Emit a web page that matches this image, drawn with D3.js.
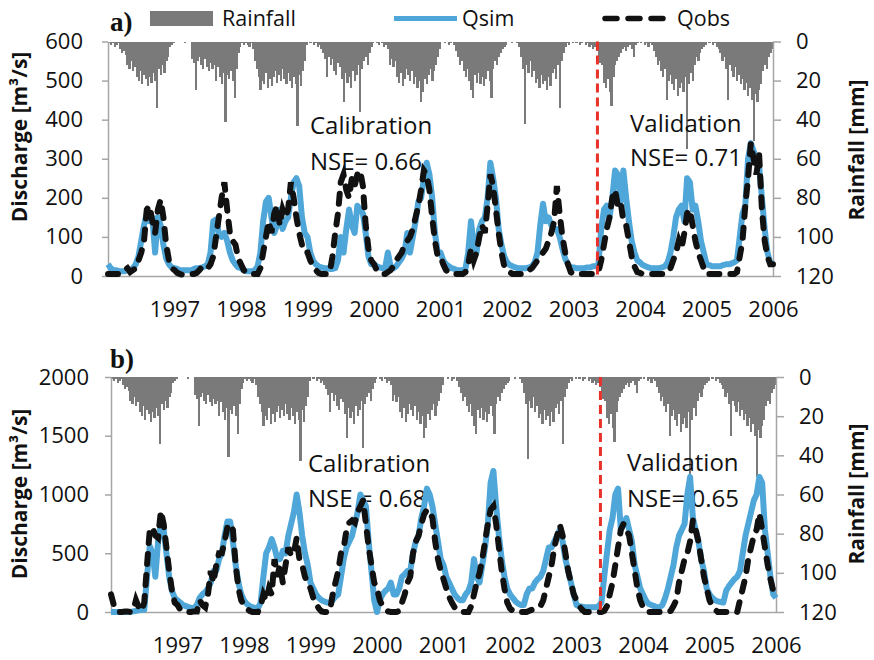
<!DOCTYPE html>
<html>
<head>
<meta charset="utf-8">
<script src="https://d3js.org/d3.v7.min.js"></script>
<style>
  body { margin: 0; background: #fff; }
  svg { display: block; }
</style>
</head>
<body>
<svg id="chart" width="874" height="660"></svg>
<script>
const START_YEAR = 1996;
const END_YEAR = 2006;
const yearTicks = [1997, 1998, 1999, 2000, 2001, 2002, 2003, 2004, 2005, 2006];
const splitYear = 2003.36; // calibration / validation split
const periodLabels = ["Calibration", "Validation"];
const nseA = ["NSE= 0.66", "NSE= 0.71"];
const nseB = ["NSE = 0.68", "NSE= 0.65"];
const legendNames = ["Rainfall", "Qsim", "Qobs"];

// rainfall [mm], 36 values per year (about 10 days each), 1996..2005
const rainfall = [
  1, 2, 1, 3, 2, 1, 4, 6, 5, 7, 12, 14, 10, 15, 13, 18, 20, 15, 22, 17, 19, 23, 18, 21, 16, 20, 34, 14, 17, 12, 16, 10, 8, 3, 2, 1,
  0, 0, 0, 0, 0, 1, 0, 0, 0, 9, 11, 25, 10, 8, 12, 14, 9, 13, 15, 11, 14, 12, 20, 13, 18, 22, 16, 41, 17, 19, 15, 20, 29, 14, 6, 3,
  1, 2, 1, 2, 3, 1, 4, 10, 14, 18, 25, 20, 22, 16, 24, 19, 23, 18, 15, 21, 17, 20, 14, 19, 22, 16, 20, 24, 18, 22, 43, 17, 23, 15, 10, 2,
  0, 1, 0, 2, 1, 3, 2, 4, 6, 9, 18, 8, 12, 9, 15, 17, 11, 13, 19, 31, 16, 21, 18, 24, 15, 20, 17, 12, 36, 14, 10, 8, 12, 6, 3, 1,
  0, 1, 2, 0, 1, 3, 2, 4, 12, 9, 13, 10, 18, 21, 16, 23, 19, 14, 17, 20, 15, 22, 18, 24, 20, 31, 26, 19, 22, 17, 14, 20, 15, 12, 8, 4,
  0, 0, 1, 0, 2, 1, 0, 2, 5, 8, 12, 10, 15, 18, 14, 20, 25, 29, 17, 21, 16, 22, 18, 23, 19, 15, 20, 29, 14, 10, 12, 8, 6, 4, 3, 2,
  0, 0, 1, 0, 0, 1, 3, 8, 14, 42, 12, 16, 10, 18, 15, 21, 19, 24, 17, 22, 20, 25, 18, 23, 16, 14, 19, 12, 34, 10, 6, 3, 1, 2, 0, 1,
  0, 1, 0, 2, 1, 0, 2, 1, 3, 2, 4, 3, 5, 8, 11, 12, 21, 24, 19, 26, 33, 18, 12, 10, 8, 6, 4, 3, 5, 3, 2, 4, 8, 2, 1, 0,
  1, 0, 2, 1, 3, 1, 2, 5, 8, 12, 10, 15, 18, 14, 30, 20, 17, 22, 25, 19, 28, 24, 21, 26, 18, 55, 22, 16, 20, 12, 8, 10, 6, 4, 3, 2,
  0, 1, 0, 2, 1, 3, 4, 6, 10, 8, 14, 30, 12, 15, 18, 13, 20, 17, 22, 19, 25, 21, 28, 24, 30, 51, 27, 31, 25, 22, 15, 12, 14, 8, 6, 4
];

// discharge [m3/s], 24 values per year (half months) + end point
const qsimA = [
  30, 20, 15, 15, 12, 12, 12, 15, 15, 20, 30, 50, 90, 130, 160, 140, 150, 60, 150, 130, 80, 45, 30, 22,
  20, 18, 15, 15, 15, 15, 15, 18, 20, 20, 22, 25, 30, 60, 140, 145, 110, 100, 110, 90, 60, 40, 30, 22,
  20, 15, 12, 12, 12, 15, 25, 60, 140, 190, 200, 150, 110, 130, 170, 120, 140, 150, 200, 240, 250, 230, 150, 110,
  100, 60, 40, 30, 25, 22, 20, 20, 18, 18, 20, 40, 100, 60, 120, 170, 130, 110, 180, 170, 160, 110, 50, 30,
  30, 25, 22, 20, 20, 60, 25, 20, 25, 35, 45, 60, 110, 60, 100, 140, 190, 200, 250, 290, 260, 200, 110, 60,
  60, 40, 30, 25, 20, 18, 15, 15, 15, 18, 60, 140, 80, 60, 120, 140, 150, 200, 290, 250, 200, 120, 80, 50,
  35, 28, 25, 22, 20, 20, 20, 20, 22, 25, 35, 60, 130, 185, 140, 150, 130, 120, 120, 100, 70, 45, 30, 22,
  22, 20, 20, 20, 20, 22, 22, 25, 25, 30, 120, 170, 180, 150, 200, 270, 260, 190, 270, 200, 140, 90, 60, 40,
  35, 28, 25, 22, 20, 20, 20, 20, 22, 25, 35, 60, 100, 150, 170, 180, 140, 250, 240, 170, 180, 140, 90, 60,
  30, 28, 25, 25, 25, 25, 28, 30, 30, 32, 35, 40, 100, 160, 180, 300, 340, 320, 300, 280, 200, 120, 60, 35, 30
];
const qobsA = [
  5, 5, 5, 5, 5, 8, 15, 20, 10, 15, 20, 40, 60, 90, 170, 180, 140, 110, 170, 195, 150, 80, 40, 20,
  15, 8, 5, 3, 3, 3, 5, 5, 8, 15, 25, 25, 20, 30, 50, 100, 150, 200, 240, 170, 110, 90, 80, 45,
  30, 15, 8, 5, 5, 5, 5, 20, 60, 100, 140, 110, 160, 180, 130, 170, 150, 170, 240, 200, 150, 110, 80, 60,
  60, 40, 25, 15, 8, 5, 5, 5, 8, 50, 110, 160, 240, 260, 220, 200, 250, 230, 260, 270, 230, 130, 70, 40,
  30, 15, 8, 5, 5, 10, 15, 25, 40, 50, 60, 80, 90, 100, 120, 150, 180, 220, 270, 260, 220, 150, 90, 50,
  50, 30, 15, 8, 5, 5, 5, 5, 5, 10, 30, 70, 40, 60, 100, 130, 110, 180, 260, 230, 170, 110, 60, 25,
  20, 10, 5, 5, 5, 5, 5, 10, 15, 20, 30, 40, 50, 60, 70, 90, 110, 140, 230, 160, 100, 60, 30, 10,
  5, 5, 5, 5, 5, 5, 5, 5, 5, 10, 40, 80, 120, 150, 200, 220, 180, 190, 140, 130, 90, 50, 25, 10,
  8, 5, 5, 5, 5, 5, 5, 5, 5, 5, 10, 20, 40, 60, 90, 70, 110, 160, 170, 130, 90, 60, 40, 20,
  5, 5, 5, 5, 5, 5, 5, 5, 5, 5, 5, 10, 50, 90, 180, 250, 340, 300, 260, 310, 170, 90, 50, 30, 30
];
const qsimB = [
  0, 0, 0, 0, 0, 0, 0, 0, 5, 10, 15, 20, 20, 300, 560, 500, 300, 600, 750, 700, 500, 300, 180, 120,
  100, 80, 60, 50, 40, 35, 35, 60, 120, 150, 170, 200, 250, 350, 350, 450, 500, 650, 770, 770, 600, 400, 250, 150,
  100, 70, 50, 40, 35, 30, 80, 300, 500, 550, 620, 550, 450, 450, 520, 500, 650, 750, 850, 1000, 850, 650, 500, 400,
  250, 200, 150, 120, 100, 90, 80, 80, 100, 130, 150, 300, 450, 550, 600, 650, 750, 850, 1000, 950, 900, 600, 350, 100,
  0, 100, 150, 180, 200, 250, 150, 150, 200, 300, 320, 350, 350, 500, 600, 650, 800, 900, 1050, 1000, 900, 750, 600, 450,
  400, 300, 250, 200, 150, 120, 100, 100, 150, 180, 250, 450, 300, 250, 400, 550, 750, 1100, 1200, 900, 650, 450, 300, 200,
  150, 120, 90, 70, 60, 60, 150, 200, 200, 250, 280, 300, 350, 450, 550, 550, 600, 650, 700, 600, 450, 350, 250, 150,
  60, 50, 45, 40, 40, 40, 40, 40, 50, 80, 300, 500, 700, 800, 1000, 1050, 700, 750, 800, 700, 600, 400, 300, 200,
  150, 100, 70, 60, 50, 40, 40, 60, 120, 200, 300, 400, 550, 650, 700, 750, 1000, 1150, 800, 700, 600, 450, 350, 200,
  150, 120, 100, 90, 85, 80, 180, 220, 250, 280, 300, 350, 500, 650, 750, 850, 950, 1000, 1150, 1100, 700, 500, 300, 150, 120
];
const qobsB = [
  150, 60, 10, 0, 0, 5, 5, 0, 10, 100, 40, 10, 80, 400, 700, 720, 650, 630, 860, 750, 550, 350, 180, 80,
  60, 20, 5, 0, 0, 0, 5, 5, 100, 60, 40, 150, 350, 250, 400, 500, 500, 600, 720, 750, 700, 400, 200, 100,
  60, 30, 10, 0, 0, 0, 50, 150, 100, 200, 150, 450, 300, 400, 250, 400, 550, 480, 500, 630, 450, 400, 300, 250,
  200, 120, 70, 30, 5, 0, 0, 5, 150, 250, 350, 500, 550, 700, 760, 780, 760, 850, 900, 950, 750, 550, 400, 250,
  200, 100, 50, 20, 5, 0, 0, 0, 10, 80, 150, 250, 300, 500, 600, 650, 750, 830, 870, 860, 800, 600, 450, 350,
  280, 200, 130, 80, 40, 15, 5, 0, 0, 0, 50, 150, 250, 330, 450, 600, 750, 870, 900, 750, 550, 350, 200, 80,
  30, 10, 0, 0, 0, 0, 0, 10, 20, 30, 40, 50, 100, 200, 300, 400, 550, 650, 740, 650, 500, 350, 250, 150,
  100, 50, 20, 0, 0, 0, 0, 0, 0, 0, 10, 50, 150, 250, 400, 550, 700, 750, 700, 650, 500, 350, 200, 100,
  40, 10, 0, 0, 0, 0, 0, 0, 0, 0, 10, 50, 100, 250, 350, 450, 500, 600, 780, 700, 600, 450, 300, 200,
  100, 50, 20, 0, 0, 0, 0, 0, 0, 0, 0, 100, 200, 300, 450, 550, 650, 700, 840, 700, 550, 400, 280, 180, 130
];

const RAIN_PER_YEAR = 36;
const Q_PER_YEAR = 24;
const FONT = "'Open Sans', sans-serif";
const BLUE = "#4fa6d8";
const GREY_AXIS = "#a6a6a6";
const TEXT = "#111";

const svg = d3.select("#chart");

const panels = [
  {
    label: "a)", labelY: 31, qsim: qsimA, qobs: qobsA, nse: nseA,
    left: 108, right: 773, top: 41.5, bottom: 276, qMax: 600,
    qTicks: [0, 100, 200, 300, 400, 500, 600], leftPad: 19,
    leftTitleY: 137, rightTitleY: 150,
    textPos: [[310, 134, 169.5], [630, 132, 166]]
  },
  {
    label: "b)", labelY: 368, qsim: qsimB, qobs: qobsB, nse: nseB,
    left: 111, right: 776, top: 377, bottom: 612, qMax: 2000,
    qTicks: [0, 500, 1000, 1500, 2000], leftPad: 16,
    leftTitleY: 494, rightTitleY: 494,
    textPos: [[308, 472, 507], [627, 471, 507]]
  }
];

function styleAxis(g) {
  g.attr("font-family", FONT).attr("font-size", 22);
  g.select(".domain").attr("stroke", GREY_AXIS).attr("stroke-width", 1.5);
  g.selectAll(".tick line").attr("stroke", GREY_AXIS).attr("stroke-width", 1.5);
  g.selectAll(".tick text").attr("fill", TEXT);
}

function drawPanel(p) {
  const x = d3.scaleLinear().domain([START_YEAR, END_YEAR]).range([p.left, p.right]);
  const yQ = d3.scaleLinear().domain([0, p.qMax]).range([p.bottom, p.top]);
  const yR = d3.scaleLinear().domain([0, 120]).range([p.top, p.bottom]);
  const g = svg.append("g");

  // rainfall bars hanging from the top
  const barW = x(START_YEAR + 1 / RAIN_PER_YEAR) - x(START_YEAR);
  g.append("g")
    .attr("shape-rendering", "crispEdges")
    .selectAll("rect")
    .data(rainfall)
    .join("rect")
    .attr("x", (d, i) => x(START_YEAR + i / RAIN_PER_YEAR))
    .attr("y", yR(0))
    .attr("width", barW + 0.4)
    .attr("height", d => yR(d) - yR(0))
    .attr("fill", "#7a7a7a");

  // axes
  g.append("g")
    .attr("transform", `translate(${p.left},0)`)
    .call(d3.axisLeft(yQ).tickValues(p.qTicks).tickFormat(d3.format("d"))
      .tickSize(6).tickSizeOuter(0).tickPadding(p.leftPad))
    .call(styleAxis);
  g.append("g")
    .attr("transform", `translate(${p.right},0)`)
    .call(d3.axisRight(yR).tickValues([0, 20, 40, 60, 80, 100, 120]).tickFormat(d3.format("d"))
      .tickSize(8).tickSizeOuter(0).tickPadding(15))
    .call(styleAxis);
  g.append("g")
    .attr("transform", `translate(0,${p.bottom})`)
    .call(d3.axisBottom(x).tickValues(yearTicks).tickFormat(d3.format("d")).tickSize(0).tickPadding(25))
    .call(styleAxis);

  // axis titles
  g.append("text")
    .attr("transform", `translate(20,${p.leftTitleY}) rotate(-90)`)
    .attr("text-anchor", "middle")
    .attr("dy", "0.35em")
    .attr("font-family", FONT)
    .attr("font-weight", "bold")
    .attr("font-size", 21)
    .attr("fill", TEXT)
    .text("Discharge [m³/s]");
  g.append("text")
    .attr("transform", `translate(857,${p.rightTitleY}) rotate(-90)`)
    .attr("text-anchor", "middle")
    .attr("dy", "0.35em")
    .attr("font-family", FONT)
    .attr("font-weight", "bold")
    .attr("font-size", 21)
    .attr("fill", TEXT)
    .text("Rainfall [mm]");

  // panel letter
  g.append("text")
    .attr("x", 110)
    .attr("y", p.labelY)
    .attr("font-family", "'Liberation Serif', serif")
    .attr("font-weight", "bold")
    .attr("font-size", 27)
    .attr("fill", TEXT)
    .text(p.label);

  // period annotations
  p.textPos.forEach((pos, i) => {
    g.append("text")
      .attr("x", pos[0]).attr("y", pos[1])
      .attr("font-family", FONT).attr("font-size", 24).attr("fill", TEXT)
      .text(periodLabels[i]);
    g.append("text")
      .attr("x", pos[0]).attr("y", pos[2])
      .attr("font-family", FONT).attr("font-size", 24).attr("fill", TEXT)
      .text(p.nse[i]);
  });

  // discharge lines
  const line = d3.line()
    .x((d, i) => x(START_YEAR + i / Q_PER_YEAR))
    .y(d => yQ(d));
  g.append("path")
    .datum(p.qsim)
    .attr("d", line)
    .attr("fill", "none")
    .attr("stroke", BLUE)
    .attr("stroke-width", 6)
    .attr("stroke-linejoin", "round");
  g.append("path")
    .datum(p.qobs)
    .attr("d", line)
    .attr("fill", "none")
    .attr("stroke", "#111")
    .attr("stroke-width", 6)
    .attr("stroke-linecap", "round")
    .attr("stroke-dasharray", "10,11");

  // split line
  g.append("line")
    .attr("x1", x(splitYear)).attr("x2", x(splitYear))
    .attr("y1", p.top).attr("y2", p.bottom)
    .attr("stroke", "#e8312a")
    .attr("stroke-width", 3)
    .attr("stroke-dasharray", "9,5");
}

panels.forEach(drawPanel);

// legend (top)
const legend = svg.append("g").attr("font-family", FONT).attr("font-size", 21.5).attr("fill", TEXT);
legend.append("rect").attr("x", 150).attr("y", 11).attr("width", 63).attr("height", 15).attr("fill", "#7a7a7a");
legend.append("text").attr("x", 222).attr("y", 26).text(legendNames[0]);
legend.append("line").attr("x1", 394).attr("x2", 457).attr("y1", 18.5).attr("y2", 18.5)
  .attr("stroke", BLUE).attr("stroke-width", 5);
legend.append("text").attr("x", 462).attr("y", 26).text(legendNames[1]);
legend.append("line").attr("x1", 605).attr("x2", 663).attr("y1", 18.5).attr("y2", 18.5)
  .attr("stroke", "#111").attr("stroke-width", 5.5).attr("stroke-linecap", "round").attr("stroke-dasharray", "12,11");
legend.append("text").attr("x", 677).attr("y", 26).text(legendNames[2]);
</script>
</body>
</html>
